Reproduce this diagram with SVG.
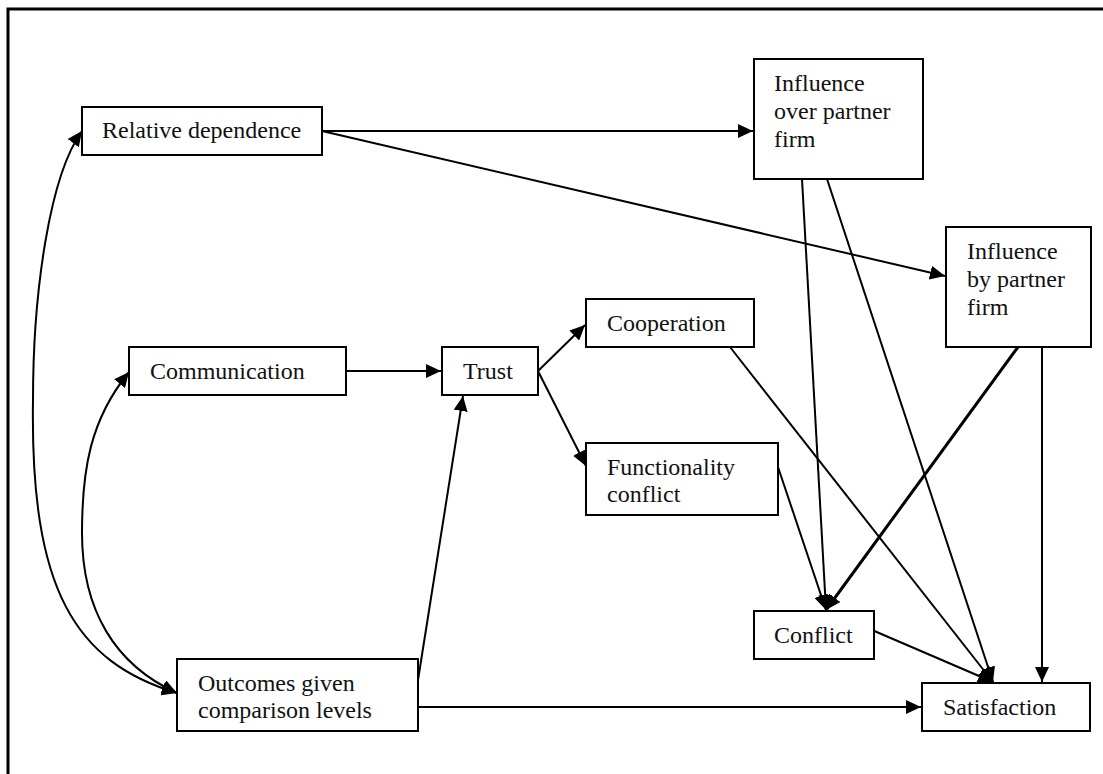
<svg xmlns="http://www.w3.org/2000/svg" width="1103" height="774" viewBox="0 0 1103 774">
<style>
.box{fill:#fff;stroke:#000;stroke-width:2}
.lbl{font-family:"Liberation Serif","Times New Roman",serif;font-size:24px;fill:#111}
.c{fill:none;stroke:#000;stroke-width:2}
</style>
<defs>
<marker id="ah" markerUnits="userSpaceOnUse" markerWidth="16" markerHeight="14" refX="15" refY="7" orient="auto-start-reverse">
<path d="M0,0 L15,7 L0,14 z" fill="#000"/>
</marker>
</defs>
<rect x="8" y="9" width="1100" height="800" fill="#fff" stroke="#000" stroke-width="3"/>
<g id="connectors">
<path class="c" d="M322,131 L753,131" marker-end="url(#ah)"/>
<path class="c" d="M322,131 L945,276" marker-end="url(#ah)"/>
<path class="c" d="M177,693 C75,662 30,590 33,400 C33,290 50,175 82,131" marker-start="url(#ah)" marker-end="url(#ah)"/>
<path class="c" d="M129,372 C90,420 82,470 82,533 C82,610 115,665 177,693" marker-start="url(#ah)" marker-end="url(#ah)"/>
<path class="c" d="M346,371 L441,371" marker-end="url(#ah)"/>
<path class="c" d="M418,680 L463,396" marker-end="url(#ah)"/>
<path class="c" d="M418,707 L921,707" marker-end="url(#ah)"/>
<path class="c" d="M538,371 L585,325" marker-end="url(#ah)"/>
<path class="c" d="M538,371 L586,466" marker-end="url(#ah)"/>
<path class="c" d="M730,347 L993,682" marker-end="url(#ah)"/>
<path class="c" d="M778,467 L826,610" marker-end="url(#ah)"/>
<path class="c" d="M802,179 L826,610" marker-end="url(#ah)"/>
<path class="c" d="M827,179 L993,682" marker-end="url(#ah)"/>
<path class="c" style="stroke-width:3" d="M1018,347 L826,610" marker-end="url(#ah)"/>
<path class="c" d="M1042,347 L1042,682" marker-end="url(#ah)"/>
<path class="c" d="M872,630 L993,682" marker-end="url(#ah)"/>
</g>
<g id="n-reldep"><rect class="box" x="82" y="107" width="240" height="48"/><text class="lbl" x="102" y="138">Relative dependence</text></g>
<g id="n-infover"><rect class="box" x="754" y="59" width="169" height="120"/><text class="lbl" x="774" y="91">Influence</text><text class="lbl" x="774" y="119">over partner</text><text class="lbl" x="774" y="147">firm</text></g>
<g id="n-infby"><rect class="box" x="946" y="227" width="145" height="120"/><text class="lbl" x="967" y="259">Influence</text><text class="lbl" x="967" y="287">by partner</text><text class="lbl" x="967" y="315">firm</text></g>
<g id="n-comm"><rect class="box" x="129" y="347" width="217" height="48"/><text class="lbl" x="150" y="379">Communication</text></g>
<g id="n-trust"><rect class="box" x="442" y="347" width="96" height="48"/><text class="lbl" x="463" y="379">Trust</text></g>
<g id="n-coop"><rect class="box" x="586" y="299" width="168" height="48"/><text class="lbl" x="607" y="331">Cooperation</text></g>
<g id="n-func"><rect class="box" x="586" y="443" width="192" height="72"/><text class="lbl" x="607" y="475">Functionality</text><text class="lbl" x="607" y="502">conflict</text></g>
<g id="n-conflict"><rect class="box" x="754" y="611" width="120" height="48"/><text class="lbl" x="774" y="643">Conflict</text></g>
<g id="n-sat"><rect class="box" x="922" y="683" width="168" height="48"/><text class="lbl" x="943" y="715">Satisfaction</text></g>
<g id="n-outcomes"><rect class="box" x="177" y="659" width="241" height="72"/><text class="lbl" x="198" y="691">Outcomes given</text><text class="lbl" x="198" y="718">comparison levels</text></g>
</svg>
